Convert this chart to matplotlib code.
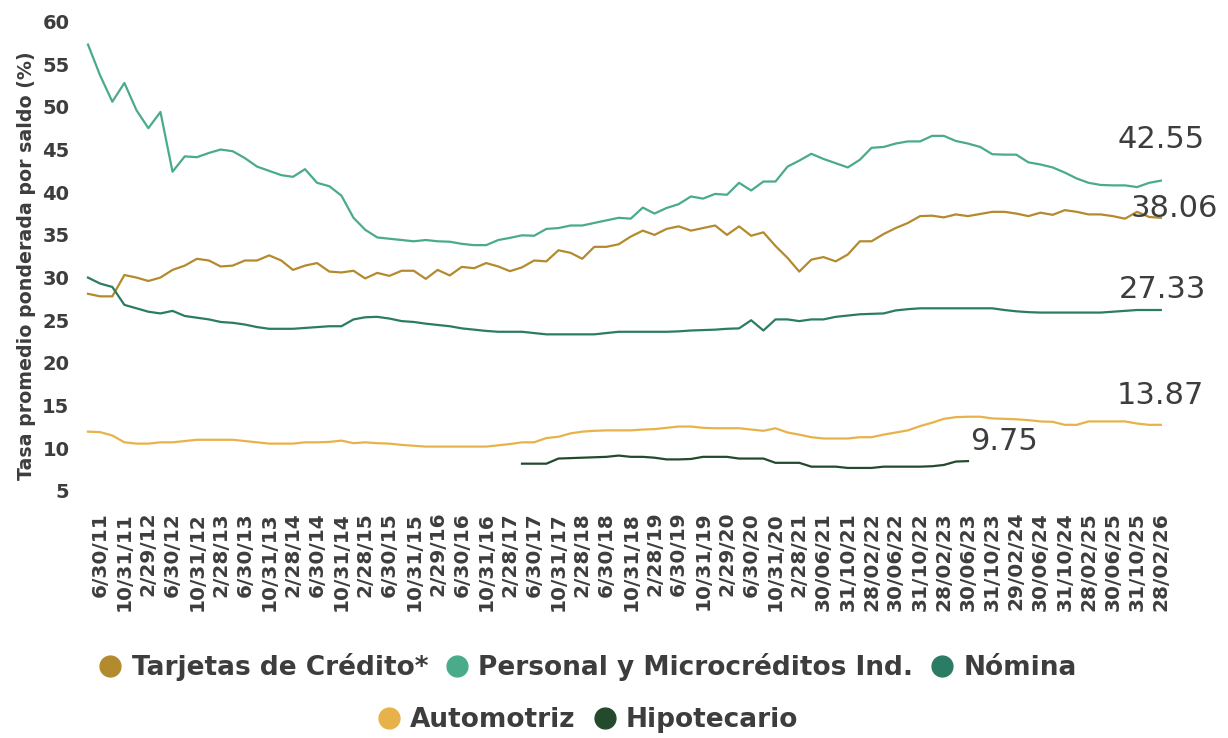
import matplotlib
matplotlib.use("Agg")
import matplotlib.pyplot as plt
from matplotlib.lines import Line2D
import pandas as pd

# fechas bimestrales (cierre de mes) abr-2011 .. feb-2026
fechas = pd.date_range("2011-04-30", periods=90, freq="2ME")

etiquetas_x = [
    "6/30/11", "10/31/11", "2/29/12", "6/30/12", "10/31/12", "2/28/13", "6/30/13",
    "10/31/13", "2/28/14", "6/30/14", "10/31/14", "2/28/15", "6/30/15", "10/31/15",
    "2/29/16", "6/30/16", "10/31/16", "2/28/17", "6/30/17", "10/31/17", "2/28/18",
    "6/30/18", "10/31/18", "2/28/19", "6/30/19", "10/31/19", "2/29/20", "6/30/20",
    "10/31/20", "2/28/21", "30/06/21", "31/10/21", "28/02/22", "30/06/22", "31/10/22",
    "28/02/23", "30/06/23", "31/10/23", "29/02/24", "30/06/24", "31/10/24", "28/02/25",
    "30/06/25", "31/10/25", "28/02/26",
]

tarjetas = [
    28.1, 27.8, 27.8, 30.3, 30.0, 29.6, 30.0, 30.9, 31.4, 32.2,
    32.0, 31.3, 31.4, 32.0, 32.0, 32.6, 32.0, 30.9, 31.4, 31.7,
    30.7, 30.6, 30.8, 29.9, 30.55, 30.2, 30.8, 30.8, 29.85, 30.9,
    30.25, 31.25, 31.1, 31.7, 31.3, 30.75, 31.2, 32.0, 31.9, 33.2,
    32.9, 32.2, 33.6, 33.6, 33.9, 34.8, 35.5, 35.0, 35.7, 36.0,
    35.5, 35.8, 36.1, 35.0, 36.0, 34.9, 35.3, 33.7, 32.3, 30.7,
    32.1, 32.4, 31.9, 32.7, 34.25, 34.25, 35.1, 35.8, 36.4, 37.2,
    37.25, 37.05, 37.4, 37.2, 37.45, 37.7, 37.7, 37.5, 37.2, 37.6,
    37.35, 37.9, 37.7, 37.4, 37.4, 37.2, 36.9, 37.7, 37.1, 37.0,
]

personal = [
    57.3, 53.7, 50.6, 52.8, 49.6, 47.5, 49.4, 42.4, 44.2, 44.1,
    44.6, 45.0, 44.8, 44.0, 43.0, 42.5, 42.0, 41.8, 42.7, 41.1,
    40.7, 39.6, 37.0, 35.6, 34.7, 34.55, 34.4, 34.25, 34.4, 34.25,
    34.2, 33.95, 33.8, 33.8, 34.4, 34.65, 34.95, 34.9, 35.7, 35.8,
    36.1, 36.1, 36.4, 36.7, 37.0, 36.9, 38.2, 37.5, 38.15, 38.6,
    39.5, 39.25, 39.8, 39.7, 41.1, 40.2, 41.25, 41.25, 43.0, 43.7,
    44.5, 43.9, 43.4, 42.9, 43.8, 45.2, 45.3, 45.7, 45.95, 45.95,
    46.6, 46.6, 46.0, 45.7, 45.3, 44.45, 44.4, 44.4, 43.5, 43.25,
    42.9, 42.3, 41.6, 41.1, 40.85, 40.8, 40.8, 40.6, 41.1, 41.35,
]

nomina = [
    30.0, 29.3, 28.9, 26.8, 26.4, 26.0, 25.8, 26.1, 25.5, 25.3,
    25.1, 24.8, 24.7, 24.5, 24.2, 24.0, 24.0, 24.0, 24.1, 24.2,
    24.3, 24.3, 25.1, 25.35, 25.4, 25.2, 24.9, 24.8, 24.6, 24.45,
    24.3, 24.05, 23.9, 23.75, 23.65, 23.65, 23.65, 23.5, 23.35, 23.35,
    23.35, 23.35, 23.35, 23.5, 23.65, 23.65, 23.65, 23.65, 23.65, 23.7,
    23.8, 23.85, 23.9, 24.0, 24.05, 25.0, 23.8, 25.1, 25.1, 24.9,
    25.1, 25.1, 25.4, 25.55, 25.7, 25.75, 25.8, 26.15, 26.3, 26.4,
    26.4, 26.4, 26.4, 26.4, 26.4, 26.4, 26.2, 26.05, 25.95, 25.9,
    25.9, 25.9, 25.9, 25.9, 25.9, 26.0, 26.1, 26.2, 26.2, 26.2,
]

automotriz = [
    11.95, 11.9, 11.5, 10.7, 10.55, 10.55, 10.7, 10.7, 10.85, 11.0,
    11.0, 11.0, 11.0, 10.85, 10.7, 10.55, 10.55, 10.55, 10.7, 10.7,
    10.75, 10.9, 10.6, 10.7, 10.6, 10.55, 10.4, 10.3, 10.2, 10.2,
    10.2, 10.2, 10.2, 10.2, 10.35, 10.5, 10.7, 10.7, 11.2, 11.35,
    11.75, 11.95, 12.05, 12.1, 12.1, 12.1, 12.2, 12.25, 12.4, 12.55,
    12.55, 12.4, 12.35, 12.35, 12.35, 12.2, 12.05, 12.35, 11.85, 11.6,
    11.3, 11.15, 11.15, 11.15, 11.3, 11.3, 11.6, 11.85, 12.1, 12.6,
    13.0, 13.45, 13.65, 13.7, 13.7, 13.5, 13.45, 13.4, 13.3, 13.15,
    13.1, 12.75, 12.75, 13.15, 13.15, 13.15, 13.15, 12.9, 12.75, 12.75,
]

# hipotecario: abr-2017 .. jun-2023
hipotecario = [
    8.2, 8.2, 8.2, 8.8, 8.85, 8.9, 8.95, 9.0, 9.15,
    9.0, 9.0, 8.9, 8.7, 8.7, 8.75, 9.0, 9.0, 9.0,
    8.8, 8.8, 8.8, 8.3, 8.3, 8.3, 7.85, 7.85, 7.85,
    7.7, 7.7, 7.7, 7.85, 7.85, 7.85, 7.85, 7.9, 8.05,
    8.45, 8.5,
]
fechas_hip = fechas[36:36 + len(hipotecario)]

nombres = ["Tarjetas de Crédito*", "Personal y Microcréditos Ind.", "Nómina",
           "Automotriz", "Hipotecario"]
colores = ["#b38b2e", "#4aab8b", "#2b7c64", "#e8b24a", "#244a2e"]
ultimos = ["38.06", "42.55", "27.33", "13.87", "9.75"]
# desplazamiento de la etiqueta final (puntos)
despl = [(10, 7), (0, 30), (1, 15), (0, 21), (26, 14)]

GRIS = "#3d3d3d"
plt.rcParams["font.family"] = "DejaVu Sans"

fig = plt.figure(figsize=(12.28, 7.38), dpi=100)
ax = fig.add_axes([0.0668, 0.3347, 0.8835, 0.6362])

series = [(fechas, tarjetas), (fechas, personal), (fechas, nomina),
          (fechas, automotriz), (fechas_hip, hipotecario)]
for (x, y), c, txt, d in zip(series, colores, ultimos, despl):
    ax.plot(x, y, color=c, lw=1.6, solid_joinstyle="round")
    ax.annotate(txt, xy=(x[-1], y[-1]), xytext=d, textcoords="offset points",
                ha="center", va="center", fontsize=22, color=GRIS)

ax.set_ylim(5, 60)
ax.set_yticks(range(5, 61, 5))
ax.set_xlim(pd.Timestamp("2011-03-31"), pd.Timestamp("2026-03-31"))
ax.set_xticks(fechas[1::2])
ax.set_xticklabels(etiquetas_x, rotation=90, va="top", ha="center")
ax.tick_params(axis="both", length=0, labelcolor=GRIS)
ax.tick_params(axis="x", pad=15, labelsize=14.5)
ax.tick_params(axis="y", pad=9, labelsize=14)
for lab in ax.get_xticklabels() + ax.get_yticklabels():
    lab.set_fontweight("bold")
for s in ax.spines.values():
    s.set_visible(False)
ax.set_ylabel("Tasa promedio ponderada por saldo (%)", fontsize=13.7,
              fontweight="bold", color=GRIS)
ax.yaxis.set_label_coords(-0.042, 0.48)

def marcador(c):
    return Line2D([], [], ls="none", marker="o", markersize=15, color=c)

handles = [marcador(c) for c in colores]
kw = dict(loc="center", frameon=False, handletextpad=0.3, columnspacing=0.6,
          prop={"weight": "bold", "size": 19}, labelcolor=GRIS, handlelength=1.0)
fig.legend(handles[:3], nombres[:3], ncol=3, bbox_to_anchor=(0.478, 0.096), **kw)
fig.legend(handles[3:], nombres[3:], ncol=2, bbox_to_anchor=(0.478, 0.024), **kw)

fig.savefig("out.png", dpi=100)
